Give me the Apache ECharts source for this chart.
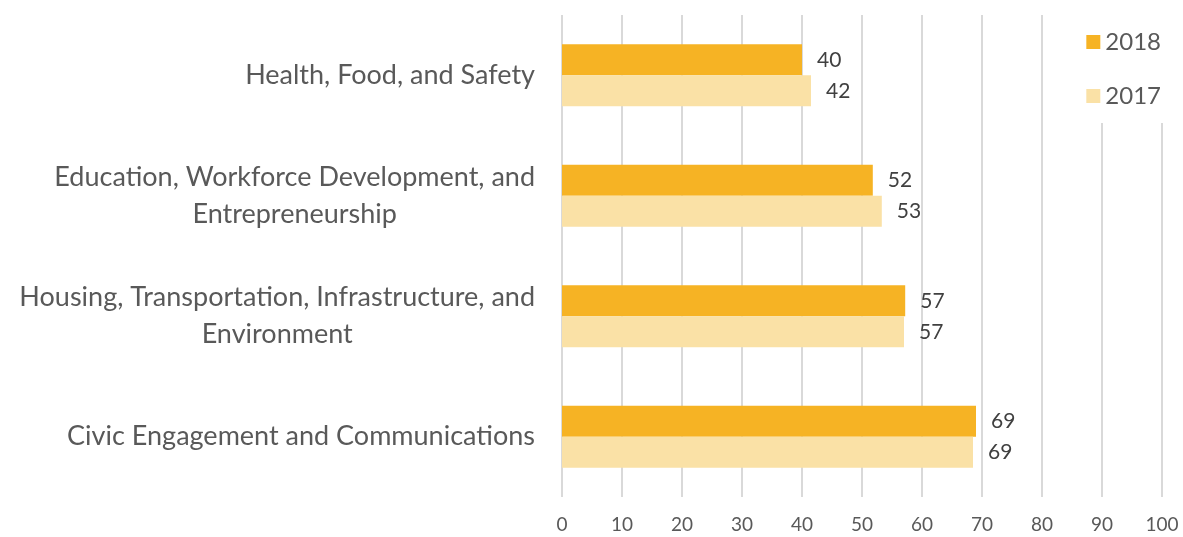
<!DOCTYPE html>
<html>
<head>
<meta charset="utf-8">
<script src="https://cdn.jsdelivr.net/npm/echarts@6/dist/echarts.min.js"></script>
<style>
  html, body { margin: 0; padding: 0; background: #fff; }
  #chart { width: 1183px; height: 537px; }
</style>
</head>
<body>
<div id="chart"></div>
<script>
// categories top to bottom
const categories = [
  'Health, Food, and Safety',
  'Education, Workforce Development, and\nEntrepreneurship',
  'Housing, Transportation, Infrastructure, and\nEnvironment',
  'Civic Engagement and Communications'
]
const values2018 = [40.0, 51.8, 57.2, 69.0]
const values2017 = [41.5, 53.3, 57.0, 68.5]
const xTicks = { min: 0, max: 100, interval: 10 }

const font = 'Lato, "Open Sans", sans-serif'

const mychart = echarts.init(document.getElementById('chart'))

function barLabel() {
  return {
    show: true,
    position: 'right',
    distance: 15,
    color: '#404040',
    fontSize: 21,
    fontFamily: font,
    formatter: (p) => Math.round(p.value)
  }
}

mychart.setOption({
  animation: false,
  grid: { left: 562, right: 21, top: 15, bottom: 40 },
  legend: {
    orient: 'vertical',
    right: 0,
    top: 15,
    itemWidth: 14,
    itemHeight: 14,
    itemGap: 30,
    icon: 'rect',
    padding: [15, 22, 15, 16],
    backgroundColor: '#fff',
    textStyle: { color: '#595959', fontSize: 24, fontFamily: font },
    data: ['2018', '2017']
  },
  xAxis: {
    type: 'value',
    min: xTicks.min,
    max: xTicks.max,
    interval: xTicks.interval,
    axisLine: { show: false },
    axisTick: { show: false },
    axisLabel: { color: '#595959', fontSize: 19, fontFamily: font, margin: 18 },
    splitLine: { lineStyle: { color: '#d9d9d9', width: 2 } }
  },
  yAxis: {
    type: 'category',
    inverse: true,
    data: categories,
    axisLine: { show: false },
    axisTick: { show: false },
    axisLabel: {
      margin: 27,
      color: '#595959',
      fontSize: 27,
      fontFamily: font,
      lineHeight: 37,
      formatter: (v) => v.split('\n').map((s) => '{c|' + s + '}').join('\n'),
      rich: {
        c: { align: 'center', color: '#595959', fontSize: 27, fontFamily: font, lineHeight: 37 }
      }
    }
  },
  series: [
    {
      name: '2018',
      type: 'bar',
      barWidth: 31,
      barGap: '0%',
      data: values2018,
      itemStyle: { color: '#F6B324' },
      label: barLabel()
    },
    {
      name: '2017',
      type: 'bar',
      barWidth: 31,
      barGap: '0%',
      data: values2017,
      itemStyle: { color: '#FAE1A6' },
      label: barLabel()
    }
  ]
})
</script>
</body>
</html>
